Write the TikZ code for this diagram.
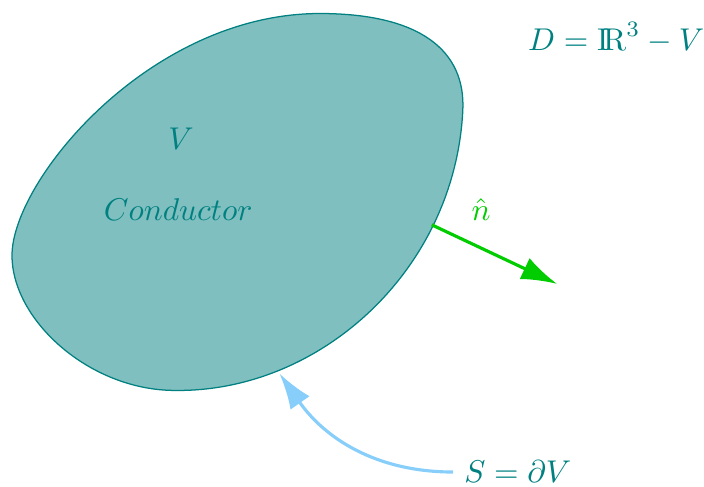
\documentclass[tikz,border=0pt]{standalone}
\usepackage{amssymb}
\usetikzlibrary{arrows.meta}
\definecolor{skyblue}{RGB}{135,206,250}
\definecolor{normalgreen}{RGB}{0,204,0}
\newcommand{\reals}{\mathrm{I\!R}}
\begin{document}
\begin{tikzpicture}[font=\normalsize, every node/.style={text=teal}]
  \useasboundingbox (0,0) rectangle (7.86,5.43);
  \draw[teal, fill=teal!50] (3.571,5.279) .. controls (4.688,5.279) and (5.201,4.866) .. (5.167,4.196)
    .. controls (5.078,2.411) and (3.571,1.049) .. (1.953,1.071)
    .. controls (1.004,1.071) and (0.134,1.853) .. (0.134,2.578)
    .. controls (0.134,3.415) and (1.674,5.279) .. cycle;
  \coordinate (P) at (4.82,2.92); \coordinate (N) at (6.22,2.26); \coordinate (Q) at (3.12,1.26);
  \node (vol) at (2.02,3.88) {$V$}; \node (cond) at (1.99,3.09) {$Conductor$};
  \node (dom) at (6.88,5.01) {$D=\reals^3-V$};
  \node[text=normalgreen] (nhat) at (5.37,3.09) {$\hat{n}$};
  \node (surf) at (5.78,0.16) {$S=\partial V$};
  \draw[normalgreen, line width=1pt, -{Latex[length=4mm,width=2.6mm]}] (P) -- (N);
  \draw[skyblue, line width=1pt, -{Latex[length=4mm,width=2.6mm]}] (surf.west) to[out=180,in=-55] (Q);
\end{tikzpicture}
\end{document}
